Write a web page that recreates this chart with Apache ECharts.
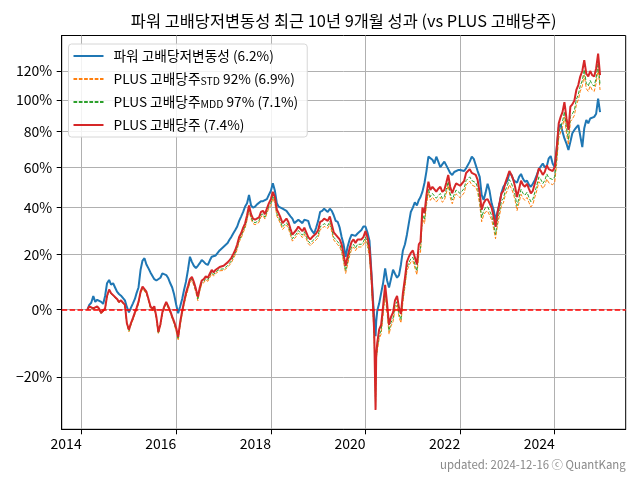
<!DOCTYPE html>
<html>
<head>
<meta charset="utf-8">
<script src="https://cdn.jsdelivr.net/npm/echarts@6/dist/echarts.min.js"></script>
<style>html,body{margin:0;padding:0;background:#fff}#c{width:640px;height:480px}</style>
</head>
<body>
<div id="c"></div>
<script>
// ---- data (cumulative return, %) ----
const dates = [
'2014-02-16','2014-03-01','2014-03-16','2014-04-01','2014-04-16','2014-05-01','2014-05-16','2014-06-01','2014-06-16','2014-07-01','2014-07-16','2014-08-01','2014-08-16','2014-09-01','2014-09-16','2014-10-01','2014-10-16','2014-11-01','2014-11-16','2014-12-01','2014-12-16',
'2015-01-01','2015-01-16','2015-02-01','2015-02-16','2015-03-01','2015-03-16','2015-04-01','2015-04-16','2015-05-01','2015-05-16','2015-06-01','2015-06-16','2015-07-01','2015-07-16','2015-08-01','2015-08-16','2015-09-01','2015-09-16','2015-10-01','2015-10-16','2015-11-01','2015-11-16','2015-12-01','2015-12-16',
'2016-01-01','2016-01-16','2016-02-01','2016-02-16','2016-03-01','2016-03-16','2016-04-01','2016-04-16','2016-05-01','2016-05-16','2016-06-01','2016-06-16','2016-07-01','2016-07-16','2016-08-01','2016-08-16','2016-09-01','2016-09-16','2016-10-01','2016-10-16','2016-11-01','2016-11-16','2016-12-01','2016-12-16',
'2017-01-01','2017-01-16','2017-02-01','2017-02-16','2017-03-01','2017-03-16','2017-04-01','2017-04-16','2017-05-01','2017-05-16','2017-06-01','2017-06-16','2017-07-01','2017-07-16','2017-08-01','2017-08-16','2017-09-01','2017-09-16','2017-10-01','2017-10-16','2017-11-01','2017-11-16','2017-12-01','2017-12-16',
'2018-01-01','2018-01-16','2018-02-01','2018-02-16','2018-03-01','2018-03-16','2018-04-01','2018-04-16','2018-05-01','2018-05-16','2018-06-01','2018-06-16','2018-07-01','2018-07-16','2018-08-01','2018-08-16','2018-09-01','2018-09-16','2018-10-01','2018-10-16','2018-11-01','2018-11-16','2018-12-01','2018-12-16',
'2019-01-01','2019-01-16','2019-02-01','2019-02-16','2019-03-01','2019-03-16','2019-04-01','2019-04-16','2019-05-01','2019-05-16','2019-06-01','2019-06-16','2019-07-01','2019-07-16','2019-08-01','2019-08-16','2019-09-01','2019-09-16','2019-10-01','2019-10-16','2019-11-01','2019-11-16','2019-12-01','2019-12-16',
'2020-01-01','2020-01-16','2020-02-01','2020-02-16','2020-03-01','2020-03-09','2020-03-19','2020-03-24','2020-04-01','2020-04-16','2020-05-01','2020-05-16','2020-06-01','2020-06-16','2020-07-01','2020-07-16','2020-08-01','2020-08-16','2020-09-01','2020-09-16','2020-10-01','2020-10-16','2020-11-01','2020-11-16','2020-12-01','2020-12-16',
'2021-01-01','2021-01-16','2021-02-01','2021-02-16','2021-03-01','2021-03-16','2021-04-01','2021-04-16','2021-05-01','2021-05-16','2021-06-01','2021-06-16','2021-07-01','2021-07-16','2021-08-01','2021-08-16','2021-09-01','2021-09-16','2021-10-01','2021-10-16','2021-11-01','2021-11-16','2021-12-01','2021-12-16',
'2022-01-01','2022-01-16','2022-02-01','2022-02-16','2022-03-01','2022-03-16','2022-04-01','2022-04-16','2022-05-01','2022-05-16','2022-06-01','2022-06-16','2022-07-01','2022-07-16','2022-08-01','2022-08-16','2022-09-01','2022-09-16','2022-10-01','2022-10-16','2022-11-01','2022-11-16','2022-12-01','2022-12-16',
'2023-01-01','2023-01-16','2023-02-01','2023-02-16','2023-03-01','2023-03-16','2023-04-01','2023-04-16','2023-05-01','2023-05-16','2023-06-01','2023-06-16','2023-07-01','2023-07-16','2023-08-01','2023-08-16','2023-09-01','2023-09-16','2023-10-01','2023-10-16','2023-11-01','2023-11-16','2023-12-01','2023-12-16',
'2024-01-01','2024-01-16','2024-02-01','2024-02-16','2024-03-01','2024-03-16','2024-04-01','2024-04-16','2024-05-01','2024-05-16','2024-06-01','2024-06-16','2024-07-01','2024-07-16','2024-08-01','2024-08-16','2024-09-01','2024-09-16','2024-10-01','2024-10-16','2024-11-01','2024-11-16','2024-12-01','2024-12-16'
];
// 파워 고배당저변동성
const powerLowVol = [
0,1.5,2.2,4.5,2.5,3.2,2.8,2.5,1.8,4.5,9.0,10.2,8.5,9.0,7.5,6.0,5.2,4.6,4.0,3.0,0.8,
-1.0,0.5,2.0,3.5,5.5,7.5,14.0,17.5,18.4,16.0,14.5,13.0,12.6,10.5,10.0,9.6,11.0,12.6,13.0,12.0,10.8,9.0,7.5,5.0,
1.5,-1.3,1.0,3.5,6.5,9.5,14.0,19.0,17.0,15.5,14.6,15.5,16.5,17.7,17.0,16.2,15.8,17.5,19.0,18.5,19.5,20.0,21.5,22.3,
23.0,23.5,24.5,26.0,27.0,28.5,30.0,31.5,34.0,35.9,38.0,40.5,42.0,46.0,41.0,40.0,40.5,41.5,42.0,43.0,43.0,42.5,44.0,46.0,
48.0,51.7,48.0,42.0,40.5,41.0,39.5,40.0,38.5,38.0,36.0,35.0,33.0,33.5,34.5,34.0,33.0,34.5,35.0,34.0,31.0,29.5,28.5,31.0,
34.0,38.0,38.5,39.5,39.0,38.0,39.5,38.5,36.5,34.0,33.5,31.0,27.0,24.0,19.0,23.0,26.0,28.0,28.5,27.5,28.5,29.0,30.0,31.5,
31.5,29.0,25.5,13.0,2.0,-3.0,-8.5,-4.0,-0.5,2.0,5.5,9.0,14.5,10.0,7.5,10.5,14.0,12.5,11.0,12.0,16.0,21.5,24.0,28.0,33.0,38.0,
40.0,42.5,41.0,43.6,45.0,47.6,52.0,58.0,65.7,66.5,64.0,62.0,65.7,63.0,60.0,61.5,63.0,61.0,59.0,57.0,56.0,57.5,58.0,58.5,
58.5,59.0,58.0,59.5,60.0,63.0,65.7,64.5,64.0,58.0,55.0,46.0,43.6,47.0,51.5,48.0,42.0,39.0,34.4,38.0,42.0,47.0,50.0,50.5,
53.0,57.0,56.0,53.4,54.0,52.0,55.0,56.5,54.0,52.5,53.0,51.0,50.0,51.5,53.4,56.0,59.0,60.0,62.0,60.0,60.5,64.8,66.0,62.0,
60.0,70.0,82.5,84.5,80.0,76.0,73.0,69.4,74.0,79.0,81.0,82.5,84.0,83.0,71.0,82.0,87.0,85.0,88.0,87.0,89.0,91.0,100.7,92.0
];
// PLUS 고배당주 STD 92%
const plusStd = [
0,0.7,0.5,0.0,-0.5,0.7,-0.1,-1.5,-2.1,0.0,4.2,6.5,5.2,4.5,3.9,3.2,2.2,2.7,2.5,1.2,-4.8,
-7.2,-5.2,-3.5,-1.7,-0.2,1.8,5.3,7.0,7.6,5.3,2.8,0.3,-0.5,0.3,-3.2,-7.8,-5.5,-1.7,0.3,1.8,0.3,-1.2,-3.1,-4.7,
-7.1,-9.8,-5.2,-1.7,1.3,4.2,6.7,9.2,10.0,8.2,5.7,2.9,6.2,8.7,9.2,10.2,9.7,11.1,12.5,11.6,12.6,13.1,13.6,13.8,
13.7,14.1,14.9,15.8,16.6,18.1,19.8,22.0,25.0,26.5,28.9,30.8,34.3,38.7,34.8,32.8,32.3,32.8,33.3,35.8,36.3,34.8,37.3,39.7,
41.0,44.4,42.0,36.1,34.6,32.7,30.2,31.2,32.2,30.7,27.8,25.3,26.3,27.3,28.7,27.8,26.8,28.2,26.3,24.3,23.4,24.3,24.8,25.8,
26.7,30.2,30.6,31.6,32.1,30.7,32.6,32.1,25.8,24.8,23.8,22.9,20.9,17.0,12.6,16.0,19.4,21.9,22.9,21.4,22.9,22.4,22.9,23.8,
25.6,23.2,18.8,8.6,-3.0,-10.5,-27.0,-15.5,-13.0,-9.2,-7.9,-2.0,5.1,-1.1,-7.9,-5.4,-4.0,-0.1,1.4,-2.5,-4.4,2.3,7.7,13.5,15.4,16.9,
17.4,17.9,12.1,19.8,20.8,35.2,32.8,41.0,47.3,43.4,44.9,44.4,42.6,43.9,44.9,42.5,43.4,46.8,50.7,44.9,41.8,44.4,46.5,45.9,
44.6,44.2,47.0,50.9,51.8,52.8,50.9,51.8,49.9,47.4,41.3,33.6,36.5,38.0,38.4,38.0,34.5,30.7,26.3,32.0,36.5,41.1,42.2,46.1,
48.2,51.0,49.1,46.6,43.4,38.6,42.4,46.3,44.4,43.4,44.8,42.4,40.3,41.5,45.0,48.2,52.5,51.0,49.1,50.6,53.9,52.0,53.0,51.0,
52.3,61.8,76.1,79.9,82.8,89.0,79.0,72.3,86.1,87.6,90.0,96.7,99.9,105.6,109.4,117.0,107.5,105.6,109.4,106.6,105.6,111.3,121.8,106.6
];
// PLUS 고배당주 MDD 97%
const plusMdd = [
0,0.8,0.6,0.1,-0.4,0.8,0.0,-1.4,-2.0,0.1,4.3,6.6,5.3,4.6,4.0,3.3,2.3,2.8,2.6,1.3,-4.7,
-6.9,-4.9,-3.2,-1.4,0.1,2.1,5.6,7.4,8.0,5.6,3.1,0.6,-0.2,0.6,-2.9,-7.6,-5.2,-1.4,0.6,2.1,0.6,-0.9,-2.8,-4.4,
-6.7,-9.3,-4.7,-1.2,1.8,4.8,7.2,9.7,10.5,8.7,6.3,3.5,6.7,9.2,9.7,10.7,10.2,11.7,13.1,12.2,13.2,13.7,14.2,14.4,
14.3,14.8,15.6,16.5,17.3,18.8,20.5,22.8,25.7,27.3,29.7,31.6,35.1,39.6,35.6,33.6,33.2,33.6,34.1,36.6,37.1,35.6,38.1,40.6,
42.1,45.6,43.1,37.2,35.7,33.7,31.3,32.3,33.2,31.8,28.8,26.3,27.3,28.3,29.8,28.8,27.8,29.3,27.3,25.3,24.4,25.3,25.8,26.8,
27.9,31.4,31.9,32.8,33.3,31.9,33.8,33.3,26.9,26.0,25.0,24.0,22.0,18.1,13.7,17.1,20.5,23.0,24.0,22.5,24.0,23.5,24.0,25.0,
27.0,24.6,20.2,9.9,-1.9,-9.6,-27.5,-15.2,-12.2,-8.2,-6.8,-0.9,6.3,0.1,-6.8,-4.3,-2.9,1.1,2.6,-1.4,-3.4,3.5,8.9,14.8,16.7,18.2,
18.8,19.3,13.5,21.3,22.3,37.0,34.5,42.8,49.1,45.1,46.7,46.2,44.4,45.7,46.7,44.3,45.1,48.7,52.6,46.7,43.6,46.2,48.4,47.7,
46.7,46.3,49.2,53.1,54.1,55.0,53.1,54.1,52.1,49.6,43.3,35.5,38.4,40.0,40.4,40.0,36.5,32.6,28.1,33.9,38.4,43.1,44.3,48.2,
50.7,53.6,51.6,49.1,45.8,40.9,44.8,48.7,46.8,45.8,47.3,44.8,42.7,43.9,47.4,50.7,55.0,53.6,51.6,53.1,56.5,54.5,55.5,53.6,
55.0,64.7,79.3,83.1,86.0,92.3,82.2,75.4,89.4,90.9,93.3,100.2,103.5,109.3,113.2,120.9,111.2,109.3,113.2,110.3,109.3,115.1,125.8,110.3
];
// PLUS 고배당주
const plusHighDiv = [
0,1.0,0.8,0.3,-0.2,1.0,0.2,-1.2,-1.8,0.3,4.5,6.8,5.5,4.8,4.2,3.5,2.5,3.0,2.8,1.5,-4.5,
-6.5,-4.5,-2.8,-1.0,0.5,2.5,6.0,7.8,8.4,6.0,3.5,1.0,0.2,1.0,-2.5,-7.2,-4.8,-1.0,1.0,2.5,1.0,-0.5,-2.4,-4.0,
-6.0,-8.7,-4.0,-0.5,2.5,5.5,8.0,10.5,11.3,9.5,7.0,4.2,7.5,10.0,10.5,11.5,11.0,12.5,13.9,13.0,14.0,14.5,15.0,15.2,
15.5,16.0,16.8,17.7,18.5,20.0,21.7,24.0,27.0,28.6,31.0,32.9,36.5,41.0,37.0,35.0,34.5,35.0,35.5,38.0,38.5,37.0,39.5,42.0,
44.0,47.5,45.0,39.0,37.5,35.5,33.0,34.0,35.0,33.5,30.5,28.0,29.0,30.0,31.5,30.5,29.5,31.0,29.0,27.0,26.0,27.0,27.5,28.5,
30.0,33.5,34.0,35.0,35.5,34.0,36.0,35.5,29.0,28.0,27.0,26.0,24.0,20.0,15.5,19.0,22.5,25.0,26.0,24.5,26.0,25.5,26.0,27.0,
29.5,27.0,22.5,12.0,0.0,-8.0,-28.3,-14.0,-10.5,-6.4,-5.0,1.0,8.4,2.0,-5.0,-2.5,-1.0,3.0,4.5,0.5,-1.5,5.5,11.0,17.0,19.0,20.5,
21.5,22.0,16.0,24.0,25.0,40.0,37.5,46.0,52.5,48.4,50.0,49.5,47.6,49.0,50.0,47.5,48.4,52.0,56.0,50.0,46.8,49.5,51.7,51.0,
50.5,50.0,53.0,57.0,58.0,59.0,57.0,58.0,56.0,53.4,47.0,39.0,42.0,43.6,44.0,43.6,40.0,36.0,31.4,37.4,42.0,46.8,48.0,52.0,
55.0,58.0,56.0,53.4,50.0,45.0,49.0,53.0,51.0,50.0,51.5,49.0,46.8,48.0,51.7,55.0,59.5,58.0,56.0,57.5,61.0,59.0,60.0,58.0,
60.0,70.0,85.0,89.0,92.0,98.5,88.0,81.0,95.5,97.0,99.5,106.6,110.0,116.0,120.0,128.0,118.0,116.0,120.0,117.0,116.0,122.0,133.0,117.0
];
const seriesNames = ['파워 고배당저변동성 (6.2%)', 'PLUS 고배당주STD 92% (6.9%)', 'PLUS 고배당주MDD 97% (7.1%)', 'PLUS 고배당주 (7.4%)'];
const yTickPct = [-20, 0, 20, 40, 60, 80, 100, 120];
const xTickDates = ['2014-01-01','2016-01-01','2018-01-01','2020-01-01','2022-01-01','2024-01-01'];
const xRange = ['2013-07-31', '2025-07-02'];
const titleText = '파워 고배당저변동성 최근 10년 9개월 성과 (vs PLUS 고배당주)';
const footerText = 'updated: 2024-12-16 ⓒ QuantKang';

// ---- chart ----
const FONT = '"Noto Sans CJK KR", "Noto Sans", sans-serif';
const ts = d => Date.parse(d + 'T00:00:00Z');
const toPts = arr => dates.map((d, i) => [ts(d), 1 + arr[i] / 100]);
const chart = echarts.init(document.getElementById('c'), null, {renderer: 'canvas'});
const mkSeries = (name, arr, color, width, dashed, z) => ({
  name, type: 'line', data: toPts(arr), symbol: 'none', showSymbol: false, z,
  lineStyle: {color, width, type: dashed ? [3.7, 1.6] : 'solid'},
  itemStyle: {color}, emphasis: {disabled: true}, animation: false
});
const s = [
  mkSeries(seriesNames[0], powerLowVol, '#1f77b4', 2, false, 2),
  mkSeries(seriesNames[1], plusStd, '#ff7f0e', 1, true, 3),
  mkSeries(seriesNames[2], plusMdd, '#2ca02c', 1, true, 4),
  mkSeries(seriesNames[3], plusHighDiv, '#d62728', 2, false, 5)
];
s[3].markLine = {
  silent: true, symbol: ['none', 'none'], label: {show: false}, animation: false, z: 10,
  lineStyle: {color: '#ff0000', opacity: 1, type: [5.5, 2.4], width: 1.5},
  emphasis: {disabled: true},
  data: [{yAxis: 1, lineStyle: {color: '#ff0000', opacity: 1}}]
};
const xTicks = xTickDates.map(ts);
const yTicks = yTickPct.map(p => 1 + p / 100);
chart.setOption({
  animation: false,
  textStyle: {fontFamily: FONT},
  grid: {left: 61.7, right: 14.3, top: 35.5, bottom: 50.7, show: true, borderColor: '#000', borderWidth: 1, containLabel: false},
  xAxis: {
    type: 'value', min: ts(xRange[0]), max: ts(xRange[1]),
    axisLine: {show: true, lineStyle: {color: '#000', width: 1}},
    axisTick: {show: true, customValues: xTicks, length: 5, lineStyle: {color: '#000'}},
    axisLabel: {customValues: xTicks, align: 'right', margin: 7, fontSize: 14, color: '#000', fontFamily: FONT,
      formatter: v => String(new Date(v).getUTCFullYear())},
    splitLine: {show: true, lineStyle: {color: '#b0b0b0', width: 1}}
  },
  yAxis: {
    type: 'log', logBase: 10, min: 0.6724, max: 2.474,
    axisLine: {show: true, lineStyle: {color: '#000', width: 1}},
    axisTick: {show: true, customValues: yTicks, length: 5, lineStyle: {color: '#000'}},
    axisLabel: {customValues: yTicks, margin: 9.5, fontSize: 14, color: '#000', fontFamily: FONT,
      formatter: v => { const p = Math.round((v - 1) * 100); return (p < 0 ? '\u2212' : '') + Math.abs(p) + '%'; }},
    splitLine: {show: true, lineStyle: {color: '#b0b0b0', width: 1}},
    minorSplitLine: {show: false}
  },
  legend: {
    orient: 'vertical', left: 68.5, top: 44,
    padding: [5, 9, 5, 4], itemGap: 9, itemWidth: 30, itemHeight: 14,
    backgroundColor: 'rgba(255,255,255,0.85)', borderColor: '#d6d6d6', borderWidth: 1, borderRadius: 3,
    data: seriesNames,
    itemStyle: {opacity: 0},
    formatter: n => n.replace('STD', '{sub|STD}').replace('MDD', '{sub|MDD}'),
    textStyle: {fontFamily: FONT, fontSize: 13.7, color: '#000', lineHeight: 14, padding: [0, 0, 0, 5],
      rich: {sub: {fontFamily: FONT, fontSize: 10.5, lineHeight: 10, verticalAlign: 'bottom', color: '#000'}}}
  },
  graphic: [
    {type: 'text', x: 343.7, y: 21, silent: true,
      style: {text: titleText, align: 'center', verticalAlign: 'middle', fontFamily: FONT, fontSize: 16.4, fill: '#000'}},
    {type: 'text', x: 625.7, y: 465, silent: true,
      style: {text: footerText, align: 'right', verticalAlign: 'middle', fontFamily: FONT, fontSize: 11.4, fill: '#888'}}
  ],
  series: s
});
</script>
</body>
</html>
